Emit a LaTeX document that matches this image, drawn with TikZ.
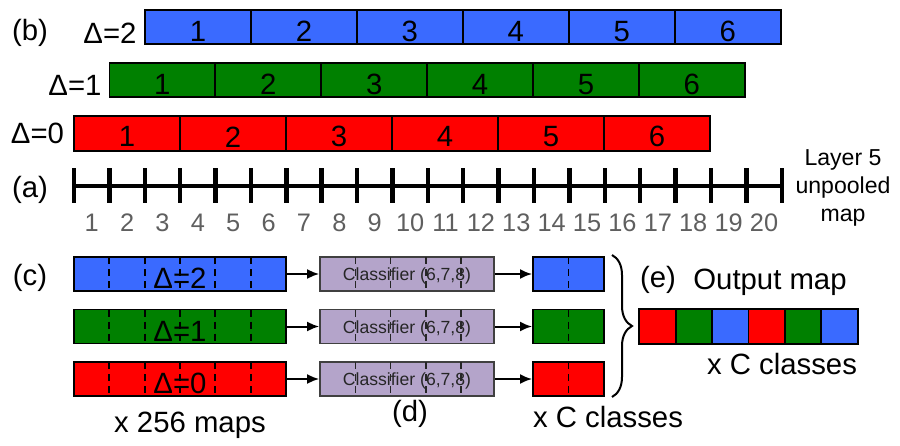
\documentclass[tikz,border=0pt]{standalone}
\usepackage{fontspec}
\setmainfont{Liberation Sans}
\usetikzlibrary{arrows.meta,decorations.pathreplacing}
\definecolor{cblue}{RGB}{58,106,255}
\definecolor{cgreen}{RGB}{0,128,0}
\definecolor{cred}{RGB}{255,0,0}
\definecolor{cpurple}{RGB}{180,164,202}
\definecolor{tickgray}{RGB}{95,95,95}
\begin{document}
\begin{tikzpicture}[x=0.75pt,y=-0.75pt,
  bigfont/.style={font=\fontsize{22}{24}\selectfont},
  cell/.style={draw=black, line width=1.4pt, minimum width=79.4pt, minimum height=26pt, inner sep=0pt},
  lbl/.style={inner sep=0pt, bigfont},
  axlbl/.style={inner sep=0pt, font=\fontsize{19}{22}\selectfont, text=tickgray},
  mapbar/.style={draw=black, line width=1.4pt, minimum width=159pt, minimum height=25.5pt, inner sep=0pt},
  clsbox/.style={draw=black!75, line width=1.3pt, fill=cpurple, minimum width=130.5pt, minimum height=25.5pt, inner sep=0pt},
  outbox/.style={draw=black, line width=1.4pt, minimum width=53.25pt, minimum height=25.5pt, inner sep=0pt},
  ocell/.style={draw=black, line width=1.4pt, minimum width=27.3pt, minimum height=26pt, inner sep=0pt},
  divline/.style={line width=1.4pt, dash pattern=on 5.5pt off 3.5pt},
  conn/.style={line width=1.5pt, -{Latex[length=9pt,width=7.5pt]}},
]
\useasboundingbox (0,0) rectangle (900,446);

% ---- (b) shifted bars ----
\foreach \i in {1,...,6} {
  \node[cell, fill=cblue]  (bb\i) at ({145+53+105.95*(\i-1)},27) {};
  \node[cell, fill=cgreen] (bg\i) at ({109.4+53+105.9*(\i-1)},80) {};
  \node[cell, fill=cred]   (br\i) at ({74+53+106*(\i-1)},133.5) {};
  \node[lbl] (tbb\i) at ([yshift=-3.5pt]bb\i.center) {\i};
  \node[lbl] (tbg\i) at ([yshift=-3.5pt]bg\i.center) {\i};
  \node[lbl] (tbr\i) at ([yshift=-2.5pt]br\i.center) {\i};
}
\node[lbl] (lb) at (30,32.5) {(b)};
\node[lbl] (d2) at (110,33.5) {Δ=2};
\node[lbl] (d1) at (75,85.5) {Δ=1};
\node[lbl] (d0) at (37.5,133) {Δ=0};

% ---- (a) axis ----
\node[lbl] (la) at (30,190) {(a)};
\draw[line width=3pt] (74,186) -- (781.7,186);
\foreach \i in {0,...,20} {
  \draw[line width=3.3pt] ({74+35.385*\i},168) -- ({74+35.385*\i},203);
}
\foreach \i in {1,...,20} {
  \node[axlbl] (ax\i) at ({74+35.385*(\i-0.5)},222.5) {\i};
}
\node[inner sep=0pt, align=center, font=\fontsize{17.3}{21}\selectfont] (layer) at (843,188) {Layer 5\\unpooled\\map};

% ---- (c) maps ----
\node[lbl] (lc) at (30,277.5) {(c)};
\node[mapbar, fill=cblue]  (cb) at (180,274) {};
\node[mapbar, fill=cgreen] (cg) at (180,326.5) {};
\node[mapbar, fill=cred]   (cr) at (180,379) {};
\node[lbl] (tcb) at (180,278.5) {Δ=2};
\node[lbl] (tcg) at (180,331) {Δ=1};
\node[lbl] (tcr) at (180,383.5) {Δ=0};
\foreach \y in {274,326.5,379} {
  \foreach \k in {1,...,5} {
    \draw[divline] ({74+35.33*\k},\y-17) -- ({74+35.33*\k},\y+17);
  }
}
\node[lbl] (t256) at (190,425) {x 256 maps};

% ---- (d) classifiers ----
\foreach \n/\y in {b/274,g/326.5,r/379} {
  \node[clsbox] (k\n) at (407,\y) {};
  \node[inner sep=0pt, font=\fontsize{13.2}{15}\selectfont, text=black!85] (kt\n) at (407,\y+2) {Classifier (6,7,8)};
  \foreach \k in {1,...,4} {
    \draw[divline, line width=1.2pt, black!85] ({320+35.3*\k},\y-17) -- ({320+35.3*\k},\y+17);
  }
}
\node[lbl] (ld) at (410,413.5) {(d)};

% ---- outputs ----
\node[outbox, fill=cblue]  (ob) at (568.5,274) {};
\node[outbox, fill=cgreen] (og) at (568.5,326.5) {};
\node[outbox, fill=cred]   (or) at (568.5,379) {};
\foreach \y in {274,326.5,379} {
  \draw[divline] (568.5,\y-17) -- (568.5,\y+17);
}
\node[lbl] (tcc) at (608,417) {x C classes};

\draw[conn] (cb.east) -- (kb.west);
\draw[conn] (cg.east) -- (kg.west);
\draw[conn] (cr.east) -- (kr.west);
\draw[conn] (kb.east) -- (ob.west);
\draw[conn] (kg.east) -- (og.west);
\draw[conn] (kr.east) -- (or.west);

% ---- brace ----
\coordinate (bt) at (612,255);
\coordinate (bbm) at (612,397);
\draw[line width=1.5pt, decorate, decoration={brace, amplitude=15pt}] (bt) -- (bbm);

% ---- (e) output map ----
\node[lbl] (le) at (658,280) {(e)};
\node[lbl] (tom) at (770,282.5) {Output map};
\foreach \i/\c in {1/cred,2/cgreen,3/cblue,4/cred,5/cgreen,6/cblue} {
  \node[ocell, fill=\c] (e\i) at ({639.3+18.2+36.4*(\i-1)},326.7) {};
}
\node[lbl] (tec) at (782,364) {x C classes};
\end{tikzpicture}
\end{document}
